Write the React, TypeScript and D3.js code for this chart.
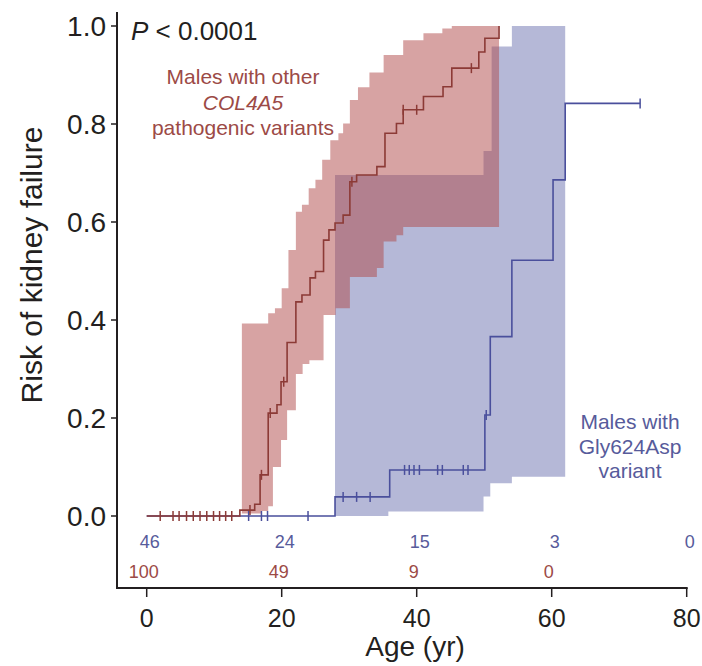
import React from 'react';
import * as d3 from 'd3';

// Kaplan-Meier steps (age in years, cumulative risk)
const redTimes = [0, 13.8, 16.0, 16.8, 18.0, 19.3, 19.9, 20.8, 22.1, 23.0, 24.2, 25.0, 26.2, 27.0, 27.9, 29.1, 30.1, 31.1, 34.1, 35.3, 37.0, 38.0, 41.0, 43.9, 45.2, 49.2, 50.1, 52.2];
const redRisk = [0, 0.012, 0.024, 0.084, 0.21, 0.227, 0.274, 0.354, 0.437, 0.451, 0.486, 0.499, 0.563, 0.584, 0.598, 0.614, 0.682, 0.696, 0.713, 0.781, 0.801, 0.829, 0.856, 0.876, 0.914, 0.947, 0.975, 1.0];
const redCensor = [2, 3.9, 4.8, 5.9, 6.9, 7.9, 8.9, 9.9, 10.8, 11.7, 12.6, 15.3, 17.0, 18.3, 20.3, 30.4, 38.0, 40.0, 48.1];

const blueTimes = [0, 27.9, 36.0, 50.1, 50.9, 54.1, 60.2, 62.0];
const blueRisk = [0, 0.039, 0.094, 0.206, 0.366, 0.522, 0.686, 0.842];
const blueEnd = 73.1;
const blueCensor = [15.1, 17.0, 17.9, 23.9, 29.1, 31.1, 33.1, 38.2, 38.9, 39.6, 40.4, 43.1, 43.8, 46.9, 47.6, 50.3, 73.1];

// confidence bands
const redUpTimes = [14.1, 18.0, 19.0, 20.0, 21.0, 22.1, 23.0, 24.0, 25.0, 26.0, 27.2, 28.4, 29.1, 30.1, 31.3, 33.0, 35.1, 38.0, 41.0, 43.8, 45.2];
const redUp = [0.393, 0.414, 0.424, 0.465, 0.543, 0.621, 0.635, 0.669, 0.686, 0.727, 0.767, 0.781, 0.801, 0.849, 0.875, 0.905, 0.941, 0.971, 0.985, 0.995, 1.0];
const redLoTimes = [14.1, 17.0, 18.0, 18.7, 19.9, 20.8, 22.1, 23.1, 24.1, 26.2, 28.0, 30.1, 34.1, 35.1, 37.0, 38.0];
const redLo = [0.005, 0.01, 0.02, 0.1, 0.155, 0.216, 0.29, 0.31, 0.318, 0.41, 0.424, 0.488, 0.506, 0.56, 0.573, 0.59];
const redBandEnd = 52.2;

const blueUpTimes = [27.9, 49.9, 51.1, 54.1];
const blueUp = [0.696, 0.745, 0.958, 1.0];
const blueLoTimes = [27.9, 35.8, 49.9, 50.9, 54.1];
const blueLo = [0.0, 0.009, 0.04, 0.067, 0.08];
const blueBandEnd = 62.0;

// numbers at risk
const riskAges = [0, 20, 40, 60, 80];
const blueAtRisk = ['46', '24', '15', '3', '0'];
const redAtRisk = ['100', '49', '9', '0'];

const xTicks = [0, 20, 40, 60, 80];
const yTicks = [0, 0.2, 0.4, 0.6, 0.8, 1.0];

const FONT = 'Liberation Sans, Arial, sans-serif';
const RED = '#8c3a36';
const RED_TXT = '#9c4a46';
const BLUE = '#4a4f9c';
const BLUE_TXT = '#575b9b';

function stepVal(times: number[], vals: number[], t: number) {
  let v = vals[0];
  for (let i = 0; i < times.length; i++) if (times[i] <= t) v = vals[i];
  return v;
}

function bandPoints(upT: number[], up: number[], loT: number[], lo: number[], end: number) {
  const ts = Array.from(new Set([...upT, ...loT, end])).sort((a, b) => a - b);
  return ts.map(t => ({ t, hi: stepVal(upT, up, t), lo: stepVal(loT, lo, t) }));
}

export default function App() {
  const x = d3.scaleLinear().domain([0, 80]).range([146.7, 686.7]);
  const y = d3.scaleLinear().domain([0, 1]).range([516, 26]);

  const area = d3.area<{ t: number; hi: number; lo: number }>()
    .x(d => x(d.t)).y0(d => y(d.lo)).y1(d => y(d.hi))
    .curve(d3.curveStepAfter);
  const line = d3.line<[number, number]>()
    .x(d => x(d[0])).y(d => y(d[1]))
    .curve(d3.curveStepAfter);

  const redBand = bandPoints(redUpTimes, redUp, redLoTimes, redLo, redBandEnd);
  const blueBand = bandPoints(blueUpTimes, blueUp, blueLoTimes, blueLo, blueBandEnd);

  const redPts: [number, number][] = redTimes.map((t, i) => [t, redRisk[i]]);
  const bluePts: [number, number][] = blueTimes.map((t, i) => [t, blueRisk[i]]);
  bluePts.push([blueEnd, blueRisk[blueRisk.length - 1]]);

  const axisY = 588;
  const axisX = 117;

  return (
    <svg width={702} height={666} style={{ position: 'absolute', left: 0, top: 0, background: '#fff' }} fontFamily={FONT}>
      {/* bands */}
      <path d={area(blueBand) || ''} fill="#b5b8d7" />
      <path d={area(redBand) || ''} fill="rgb(175,72,72)" fillOpacity={0.5} />

      {/* KM curves */}
      <path d={line(bluePts) || ''} fill="none" stroke={BLUE} strokeWidth={1.6} />
      {blueCensor.map((t, i) => {
        const v = stepVal(blueTimes, blueRisk, t);
        return <line key={'bc' + i} x1={x(t)} x2={x(t)} y1={y(v) - 5} y2={y(v) + 5} stroke={BLUE} strokeWidth={1.5} />;
      })}
      <path d={line(redPts) || ''} fill="none" stroke={RED} strokeWidth={1.6} />
      {redCensor.map((t, i) => {
        const v = stepVal(redTimes, redRisk, t);
        return <line key={'rc' + i} x1={x(t)} x2={x(t)} y1={y(v) - 5} y2={y(v) + 5} stroke={RED} strokeWidth={1.5} />;
      })}

      {/* axes */}
      <line x1={axisX} x2={axisX} y1={12} y2={axisY + 1} stroke="#231f20" strokeWidth={2} />
      <line x1={axisX} x2={x(80) + 1} y1={axisY} y2={axisY} stroke="#231f20" strokeWidth={2} />
      {yTicks.map(v => (
        <g key={'yt' + v}>
          <line x1={axisX - 6} x2={axisX} y1={y(v)} y2={y(v)} stroke="#231f20" strokeWidth={1.5} />
          <text x={106} y={y(v) + 10} textAnchor="end" fontSize={28} fill="#231f20">{v.toFixed(1)}</text>
        </g>
      ))}
      {xTicks.map(v => (
        <g key={'xt' + v}>
          <line x1={x(v)} x2={x(v)} y1={axisY} y2={axisY + 9} stroke="#231f20" strokeWidth={1.5} />
          <text x={x(v)} y={627} textAnchor="middle" fontSize={25} fill="#231f20">{v}</text>
        </g>
      ))}
      <text x={415} y={656} textAnchor="middle" fontSize={28} fill="#231f20">Age (yr)</text>
      <text transform="translate(42,265) rotate(-90)" textAnchor="middle" fontSize={30} fill="#231f20">Risk of kidney failure</text>

      {/* numbers at risk */}
      {blueAtRisk.map((s, i) => (
        <text key={'ba' + i} x={x(riskAges[i]) + 3} y={548} textAnchor="middle" fontSize={18} fill={BLUE_TXT}>{s}</text>
      ))}
      {redAtRisk.map((s, i) => (
        <text key={'ra' + i} x={x(riskAges[i]) - 3} y={578} textAnchor="middle" fontSize={18} fill={RED_TXT}>{s}</text>
      ))}

      {/* annotations */}
      <text x={131} y={40} fontSize={26} fill="#231f20"><tspan fontStyle="italic">P</tspan> &lt; 0.0001</text>
      <g textAnchor="middle" fontSize={21} fill={RED_TXT}>
        <text x={243} y={84}>Males with other</text>
        <text x={243} y={110} fontStyle="italic">COL4A5</text>
        <text x={243} y={135}>pathogenic variants</text>
      </g>
      <g textAnchor="middle" fontSize={21} fill={BLUE_TXT}>
        <text x={630} y={429}>Males with</text>
        <text x={630} y={454}>Gly624Asp</text>
        <text x={630} y={478}>variant</text>
      </g>
    </svg>
  );
}
